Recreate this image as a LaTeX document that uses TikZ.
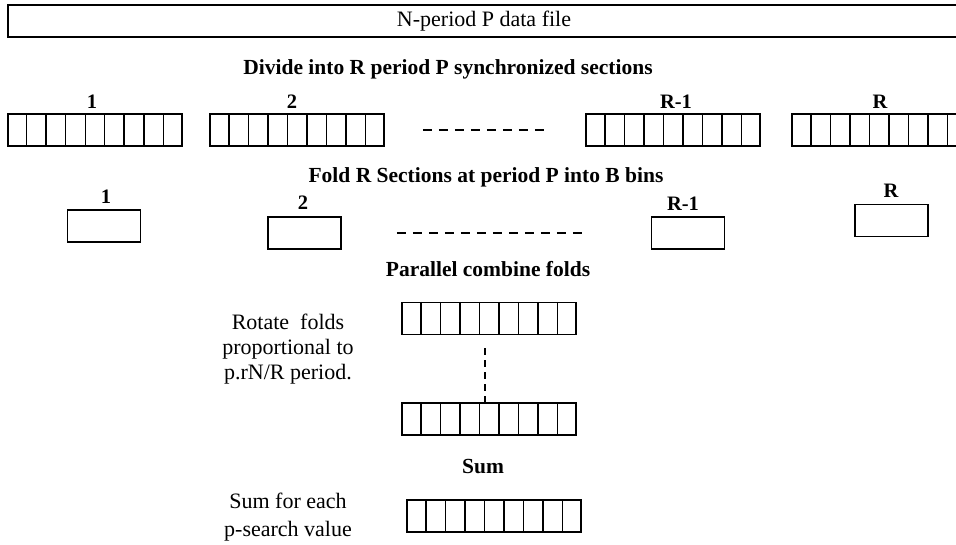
\documentclass[tikz,border=0pt]{standalone}
\usepackage{fontspec}
\setmainfont{Liberation Serif}
\usetikzlibrary{calc}

\begin{document}
\begin{tikzpicture}[x=1pt, y=-1pt,
  filebox/.style={draw, line width=1.5pt, minimum width=952pt, minimum height=32pt, inner sep=0pt, font=\fontsize{22}{24}\selectfont},
  strip/.style={draw, line width=1.5pt, minimum width=174pt, minimum height=32pt, inner sep=0pt},
  bin/.style={draw, line width=1.5pt, minimum width=73pt, minimum height=32pt, inner sep=0pt},
  head/.style={font=\bfseries\fontsize{21.5}{24}\selectfont, inner sep=0pt},
  idx/.style={font=\bfseries\fontsize{20.5}{22}\selectfont, inner sep=0pt},
  note/.style={align=center, inner sep=0pt},
  gap/.style={line width=1.5pt, dash pattern=on 9pt off 7pt},
]
  \useasboundingbox (0,0) rectangle (956,544);
  \clip (0,0) rectangle (956,544);

  \node[filebox] (file) at (484,21) {N-period P data file};

  % Sections
  \node[head] (divide) at (448,69) {Divide into R period P synchronized sections};
  \node[strip] (s1) at (95,130) {};
  \node[strip] (s2) at (297,130) {};
  \node[strip] (s3) at (673,130) {};
  \node[strip] (s4) at (879,130) {};
  \node[idx] (l1) at (92,102) {1};
  \node[idx] (l2) at (292,102) {2};
  \node[idx] (l3) at (676,102) {R-1};
  \node[idx] (l4) at (880,102) {R};
  \draw[gap] ([xshift=38pt]s2.east) -- ([xshift=-36pt]s3.west);

  % Folds
  \node[head] (fold) at (486,177) {Fold R Sections at period P into B bins};
  \node[bin] (b1) at (104,226) {};
  \node[bin] (b2) at (304.5,233) {};
  \node[bin] (b3) at (688,233) {};
  \node[bin] (b4) at (891.5,220.5) {};
  \node[idx] (f1) at (106,197) {1};
  \node[idx] (f2) at (303,203) {2};
  \node[idx] (f3) at (683,204) {R-1};
  \node[idx] (f4) at (891,191) {R};
  \draw[gap] ([xshift=55pt]b2.east) -- ([xshift=-66pt]b3.west);

  % Combine
  \node[head] (combine) at (488,269) {Parallel combine folds};
  \node[strip] (ra) at (489,318.5) {};
  \node[strip] (rb) at (489,419) {};
  \node[note, font=\fontsize{22}{25}\selectfont] (rotate) at (288,349) {Rotate\ \ folds\\proportional to\\p.rN/R period.};
  \draw[line width=1.5pt, dash pattern=on 7pt off 5pt, shorten <=13pt]
    ([xshift=-4pt]ra.south) -- ([xshift=-4pt]rb.north);

  % Sum
  \node[head] (sumhead) at (483,467) {Sum};
  \node[strip] (sum) at (494,516) {};
  \node[note, font=\fontsize{22}{28}\selectfont] (sumnote) at (288,517) {Sum for each\\p-search value};

  % bin walls
  \foreach \s in {s1,s2,s3,s4,ra,rb,sum}
    \foreach \k in {1,...,8}
      \draw[line width=1.5pt] ($(\s.north west)!\k/9!(\s.north east)$) -- ($(\s.south west)!\k/9!(\s.south east)$);
\end{tikzpicture}
\end{document}
